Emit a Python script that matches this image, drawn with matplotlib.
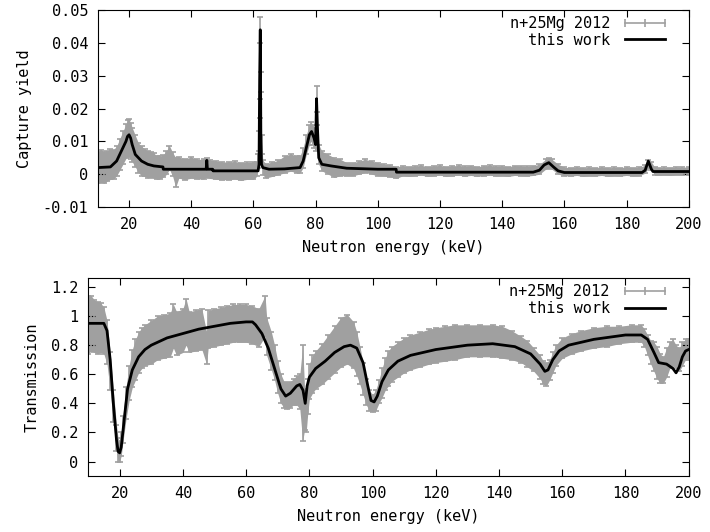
"""Two-panel plot: n+25Mg capture yield and transmission vs neutron energy,
measured data (gray error bars) against the fit ("this work").

Outputs out.png
"""

import matplotlib
matplotlib.use("Agg")
import matplotlib.pyplot as plt
from matplotlib.lines import Line2D
from matplotlib.ticker import FormatStrFormatter

# ---- capture yield: measured ----
cap_e = [10, 11, 12, 13, 14, 15, 16, 17, 18, 19, 19.5, 20, 20.5, 21, 22, 23, 24,
         25, 26, 27, 28, 29, 30, 31, 32, 33, 34, 35, 36, 38, 40, 42, 44, 45, 46,
         48, 50, 52, 54, 56, 58, 60, 61, 61.5, 61.8, 62.0, 62.2, 62.4, 62.6, 63,
         64, 66, 68, 70, 72, 74, 75, 76, 77, 78, 78.5, 79, 79.5, 80, 80.3, 80.6,
         81, 82, 84, 86, 88, 90, 92, 94, 96, 98, 100, 102, 104, 106, 108, 110,
         112, 114, 116, 118, 120, 122, 124, 126, 128, 130, 132, 134, 136, 138,
         140, 142, 144, 146, 148, 150, 152, 154, 155, 156, 158, 160, 162, 164,
         166, 168, 170, 172, 174, 176, 178, 180, 182, 184, 186, 187, 188, 189,
         190, 192, 194, 196, 198, 200]
cap_y = [0.002, 0.0025, 0.002, 0.0025, 0.003, 0.003, 0.004, 0.006, 0.008, 0.010,
         0.011, 0.011, 0.010, 0.009, 0.007, 0.005, 0.004, 0.0035, 0.003, 0.003,
         0.0025, 0.002, 0.002, 0.0025, 0.0035, 0.005, 0.003, 0.0005, 0.002,
         0.0015, 0.002, 0.0015, 0.0015, 0.002, 0.0015, 0.0012, 0.001, 0.001,
         0.0012, 0.0008, 0.001, 0.001, 0.0015, 0.004, 0.010, 0.020, 0.044, 0.028,
         0.009, 0.002, 0.001, 0.0015, 0.002, 0.003, 0.0035, 0.003, 0.003, 0.005,
         0.009, 0.012, 0.013, 0.012, 0.011, 0.010, 0.023, 0.012, 0.006, 0.004,
         0.003, 0.002, 0.002, 0.0015, 0.0015, 0.002, 0.0025, 0.002, 0.0015,
         0.0012, 0.001, 0.0005, 0.001, 0.0008, 0.001, 0.0012, 0.0008, 0.001,
         0.0012, 0.0008, 0.001, 0.0012, 0.0009, 0.0011, 0.0008, 0.001, 0.0012,
         0.0009, 0.001, 0.0008, 0.0011, 0.001, 0.0009, 0.0011, 0.0015, 0.003,
         0.0035, 0.003, 0.0015, 0.0008, 0.0007, 0.0009, 0.0006, 0.0008, 0.0007,
         0.0009, 0.0006, 0.0008, 0.0007, 0.0009, 0.0007, 0.0008, 0.0015, 0.003,
         0.0025, 0.001, 0.0008, 0.0009, 0.0008, 0.001, 0.0009, 0.001]
cap_err = [0.0048, 0.005, 0.0048, 0.0046, 0.0046, 0.0045, 0.0045, 0.0048, 0.005,
           0.0052, 0.0055, 0.0058, 0.0055, 0.0052, 0.0048, 0.0045, 0.0045, 0.0042,
           0.0042, 0.0038, 0.0038, 0.0036, 0.0034, 0.0034, 0.0036, 0.0036, 0.0036,
           0.0045, 0.0032, 0.0032, 0.0032, 0.003, 0.003, 0.003, 0.0028, 0.0028,
           0.0027, 0.0027, 0.0027, 0.0027, 0.0026, 0.0026, 0.0022, 0.0022, 0.003,
           0.003, 0.004, 0.003, 0.003, 0.0022, 0.0022, 0.0022, 0.0022, 0.0026,
           0.0026, 0.0026, 0.0026, 0.003, 0.003, 0.003, 0.003, 0.003, 0.003,
           0.003, 0.004, 0.003, 0.003, 0.003, 0.003, 0.003, 0.0025, 0.002,
           0.002, 0.002, 0.002, 0.002, 0.002, 0.0018, 0.0018, 0.0018, 0.0015,
           0.0015, 0.0015, 0.0015, 0.0015, 0.0015, 0.0015, 0.0015, 0.0015,
           0.0015, 0.0015, 0.0015, 0.0015, 0.0015, 0.0015, 0.0015, 0.0015,
           0.0015, 0.0015, 0.0015, 0.0015, 0.0015, 0.0015, 0.0015, 0.0015,
           0.0015, 0.0015, 0.0013, 0.0013, 0.0013, 0.0013, 0.0013, 0.0013,
           0.0013, 0.0013, 0.0013, 0.0013, 0.0013, 0.0013, 0.0013, 0.0012,
           0.0012, 0.0012, 0.0012, 0.0012, 0.0012, 0.0012, 0.0012, 0.0012,
           0.0012]

# ---- capture yield: this work ----
capfit_e = [10, 14, 16, 18, 19, 19.5, 20, 20.5, 21, 22, 24, 26, 28, 30.9, 31,
            44.8, 45, 45.2, 46.9, 47, 61.5, 61.8, 62.0, 62.2, 62.4, 62.6, 63, 65,
            70, 75, 76, 77, 78, 78.7, 79.5, 80, 80.3, 80.6, 81, 82, 85, 90, 100,
            105.9, 106, 150, 152, 153.5, 155, 156.5, 158, 160, 185, 186, 187,
            188, 188.5, 200]
capfit_y = [0.002, 0.0022, 0.004, 0.008, 0.010, 0.0115, 0.012, 0.011, 0.009,
            0.006, 0.004, 0.003, 0.0025, 0.0022, 0.0015, 0.0015, 0.0042, 0.0015,
            0.0015, 0.001, 0.001, 0.003, 0.029, 0.044, 0.010, 0.003, 0.002,
            0.0015, 0.0016, 0.002, 0.004, 0.008, 0.012, 0.013, 0.011, 0.009,
            0.023, 0.014, 0.005, 0.003, 0.0025, 0.0018, 0.0015, 0.0015, 0.0006,
            0.0006, 0.0012, 0.0028, 0.0035, 0.0022, 0.001, 0.0005, 0.0005,
            0.0012, 0.004, 0.0015, 0.0008, 0.0008]

# ---- transmission: measured ----
tr_e = [10, 11, 12, 13, 14, 15, 16, 17, 18, 19, 19.5, 20, 20.5, 21, 22, 23, 24,
        25, 26, 27, 28, 30, 32, 34, 36, 37, 38, 40, 41, 42, 44, 46, 47.5, 48, 50,
        52, 54, 56, 58, 60, 62, 64, 66, 66.5, 68, 69, 70, 71, 72, 73, 74, 75,
        76, 77, 77.9, 78.5, 79, 79.5, 80, 81, 82, 84, 86, 88, 90, 92, 94, 95, 96,
        97, 98, 99, 100, 101, 102, 103, 104, 105, 106, 108, 110, 112, 115, 118,
        120, 123, 126, 130, 134, 138, 141, 144, 147, 149, 151, 153, 154, 155,
        156, 157, 158, 160, 163, 166, 170, 174, 178, 182, 185, 186, 187, 188,
        189, 190, 191, 192, 193, 194, 195, 196, 197, 198, 199, 200]
tr_y = [0.94, 0.95, 0.93, 0.92, 0.92, 0.90, 0.82, 0.62, 0.38, 0.16, 0.08, 0.07,
        0.12, 0.22, 0.40, 0.54, 0.64, 0.70, 0.75, 0.78, 0.80, 0.82, 0.85, 0.86,
        0.87, 0.93, 0.88, 0.90, 0.96, 0.89, 0.90, 0.91, 0.78, 0.91, 0.92, 0.93,
        0.94, 0.95, 0.95, 0.95, 0.94, 0.92, 1.00, 0.86, 0.76, 0.68, 0.58, 0.50,
        0.46, 0.45, 0.46, 0.48, 0.49, 0.48, 0.47, 0.36, 0.32, 0.45, 0.55, 0.60,
        0.63, 0.67, 0.72, 0.77, 0.82, 0.84, 0.80, 0.74, 0.66, 0.57, 0.48, 0.42,
        0.40, 0.42, 0.48, 0.54, 0.60, 0.64, 0.67, 0.70, 0.73, 0.75, 0.77, 0.79,
        0.80, 0.81, 0.82, 0.83, 0.83, 0.83, 0.82, 0.80, 0.77, 0.74, 0.70, 0.65,
        0.61, 0.60, 0.63, 0.68, 0.73, 0.78, 0.81, 0.83, 0.85, 0.86, 0.87, 0.88,
        0.88, 0.85, 0.80, 0.75, 0.72, 0.68, 0.64, 0.63, 0.68, 0.73, 0.75, 0.72,
        0.70, 0.74, 0.77, 0.77]
tr_err = [0.20, 0.19, 0.18, 0.18, 0.17, 0.16, 0.15, 0.13, 0.11, 0.09, 0.08, 0.07,
          0.08, 0.09, 0.11, 0.12, 0.13, 0.14, 0.14, 0.14, 0.14, 0.15, 0.15, 0.15,
          0.15, 0.15, 0.15, 0.15, 0.16, 0.14, 0.14, 0.14, 0.11, 0.13, 0.13, 0.13,
          0.13, 0.13, 0.13, 0.13, 0.13, 0.13, 0.14, 0.13, 0.13, 0.12, 0.11, 0.10,
          0.09, 0.09, 0.09, 0.09, 0.10, 0.12, 0.33, 0.14, 0.12, 0.12, 0.12, 0.13,
          0.13, 0.14, 0.15, 0.16, 0.17, 0.17, 0.16, 0.15, 0.13, 0.11, 0.09, 0.07,
          0.06, 0.07, 0.08, 0.10, 0.11, 0.12, 0.12, 0.12, 0.12, 0.12, 0.12, 0.12,
          0.12, 0.12, 0.12, 0.11, 0.11, 0.11, 0.11, 0.10, 0.09, 0.09, 0.08, 0.08,
          0.08, 0.08, 0.07, 0.07, 0.07, 0.07, 0.07, 0.07, 0.07, 0.07, 0.06, 0.06,
          0.06, 0.06, 0.07, 0.08, 0.10, 0.11, 0.10, 0.09, 0.10, 0.09, 0.09, 0.08,
          0.08, 0.08, 0.07, 0.07]

# ---- transmission: this work ----
trfit_e = [10, 15, 16, 17, 18, 19, 19.5, 20, 20.5, 21.5, 22.5, 24, 26, 28, 30,
           35, 40, 45, 50, 55, 60, 62, 63, 65, 67, 69, 71, 72.5, 74, 76, 77, 78,
           78.7, 79.3, 80, 82, 85, 88, 91, 93, 95, 97, 98.5, 99.5, 100.5, 101.5,
           103, 105, 108, 112, 120, 130, 138, 145, 150, 153, 154.5, 155.5, 157,
           159, 162, 170, 180, 185, 187, 189, 190.5, 193, 195, 196, 197, 198,
           199, 200]
trfit_y = [0.95, 0.95, 0.90, 0.70, 0.40, 0.15, 0.07, 0.06, 0.10, 0.30, 0.50,
           0.63, 0.72, 0.77, 0.80, 0.85, 0.88, 0.91, 0.93, 0.95, 0.96, 0.96,
           0.94, 0.88, 0.78, 0.64, 0.50, 0.45, 0.47, 0.52, 0.53, 0.49, 0.40,
           0.52, 0.58, 0.64, 0.69, 0.75, 0.79, 0.80, 0.78, 0.68, 0.52, 0.42,
           0.41, 0.45, 0.55, 0.63, 0.69, 0.73, 0.77, 0.80, 0.81, 0.79, 0.74,
           0.67, 0.62, 0.63, 0.70, 0.76, 0.80, 0.84, 0.87, 0.87, 0.84, 0.75,
           0.68, 0.67, 0.64, 0.61, 0.65, 0.72, 0.76, 0.77]

XTICKS = [20, 40, 60, 80, 100, 120, 140, 160, 180, 200]
GRAY = "#a0a0a0"

plt.rcParams["font.family"] = ["DejaVu Sans Mono"]
plt.rcParams["font.size"] = 11


def panel(ax, e, y, err, fe, fy, ylabel, ylim, yticks):
    lo = [a - b for a, b in zip(y, err)]
    hi = [a + b for a, b in zip(y, err)]
    ax.fill_between(e, lo, hi, color=GRAY, linewidth=0, zorder=1)
    ax.errorbar(e, y, yerr=err, fmt="none", ecolor=GRAY, elinewidth=1.2,
                capsize=2.5, capthick=1.2, zorder=2)
    fit, = ax.plot(fe, fy, color="black", linewidth=2, zorder=3)
    ax.set_xlim(10, 200)
    ax.set_ylim(*ylim)
    ax.set_xticks(XTICKS)
    ax.set_yticks(yticks)
    ax.yaxis.set_major_formatter(FormatStrFormatter("%g"))
    ax.tick_params(direction="in", top=True, right=True, length=5, pad=7)
    ax.set_xlabel("Neutron energy (keV)", labelpad=6)
    ax.set_ylabel(ylabel, labelpad=8)
    # gnuplot-style key: horizontal gray bar with small ticks
    data_key = Line2D([], [], color=GRAY, linewidth=1.2, marker="|",
                      markersize=6, markeredgewidth=1.2)
    ax.legend([data_key, fit], ["n+25Mg 2012", "this work"], loc="upper right",
              bbox_to_anchor=(0.978, 1.0), frameon=False, markerfirst=False,
              numpoints=3, handlelength=3.2, handletextpad=0.7,
              labelspacing=0.1, borderpad=0.1, borderaxespad=0.3)


fig = plt.figure(figsize=(7.1, 5.32), dpi=100)
ax1 = fig.add_axes([0.138, 0.611, 0.832, 0.370])
ax2 = fig.add_axes([0.124, 0.105, 0.846, 0.372])

panel(ax1, cap_e, cap_y, cap_err, capfit_e, capfit_y, "Capture yield",
      (-0.01, 0.05), [-0.01, 0, 0.01, 0.02, 0.03, 0.04, 0.05])
panel(ax2, tr_e, tr_y, tr_err, trfit_e, trfit_y, "Transmission",
      (-0.1, 1.26), [0, 0.2, 0.4, 0.6, 0.8, 1.0, 1.2])

fig.savefig("out.png", dpi=100)
